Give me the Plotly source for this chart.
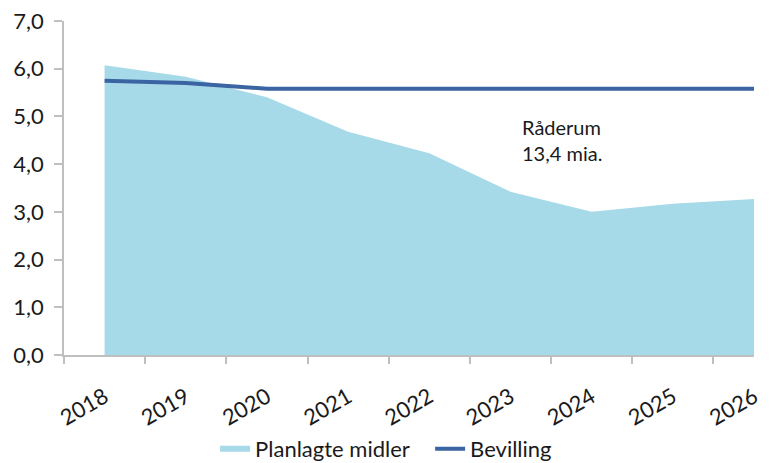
import plotly.graph_objects as go

years = ["2018", "2019", "2020", "2021", "2022", "2023", "2024", "2025", "2026"]
planlagte_midler = [6.07, 5.83, 5.40, 4.68, 4.23, 3.42, 3.00, 3.17, 3.27]
bevilling = [5.75, 5.70, 5.58, 5.58, 5.58, 5.58, 5.58, 5.58, 5.58]
y_ticks = [0, 1, 2, 3, 4, 5, 6, 7]

FONT = "Lato"
TXT = "#1a1a1a"

fig = go.Figure()
fig.add_trace(go.Scatter(
    x=years, y=planlagte_midler, name="Planlagte midler",
    mode="none", fill="tozeroy", fillcolor="#A6DAE8",
))
fig.add_trace(go.Scatter(
    x=years, y=bevilling, name="Bevilling",
    mode="lines", line=dict(color="#3A64A2", width=4),
))

fig.add_annotation(
    text="Råderum<br>13,4 mia.", xref="paper", yref="paper",
    x=0.661, y=0.643, xanchor="left", yanchor="middle", align="left",
    showarrow=False, font=dict(family=FONT, size=20, color=TXT),
)

fig.update_layout(
    width=773, height=463,
    margin=dict(l=64, r=19, t=21, b=108, autoexpand=False),
    paper_bgcolor="white", plot_bgcolor="white",
    separators=",.",
    font=dict(family=FONT, size=20, color=TXT),
    showlegend=True,
    legend=dict(orientation="h", x=0.219, xanchor="left",
                y=-0.281, yanchor="middle",
                font=dict(family=FONT, size=22, color=TXT), itemwidth=30,
                entrywidth=170, traceorder="normal"),
)
fig.update_xaxes(
    type="category", range=[-0.5, 8], tickson="boundaries", automargin=False,
    showline=True, linecolor="#BFBFBF", linewidth=1.5,
    ticks="outside", ticklen=7, tickcolor="#BFBFBF", tickwidth=1.5,
    tickangle=-30, showgrid=False, zeroline=False, ticklabelstandoff=19,
    tickfont=dict(family=FONT, size=22, color=TXT),
)
fig.update_yaxes(
    range=[0, 7], tickvals=y_ticks, tickformat=".1f", automargin=False,
    showline=True, linecolor="#BFBFBF", linewidth=1.5,
    ticks="outside", ticklen=8, tickcolor="#BFBFBF", tickwidth=1.5,
    showgrid=False, zeroline=False, ticklabelstandoff=6,
    tickfont=dict(family=FONT, size=22, color=TXT),
)

fig.write_html("out.html",
               config={"displayModeBar": False},
               post_script="document.body.style.margin='0';document.body.style.overflow='hidden';")
